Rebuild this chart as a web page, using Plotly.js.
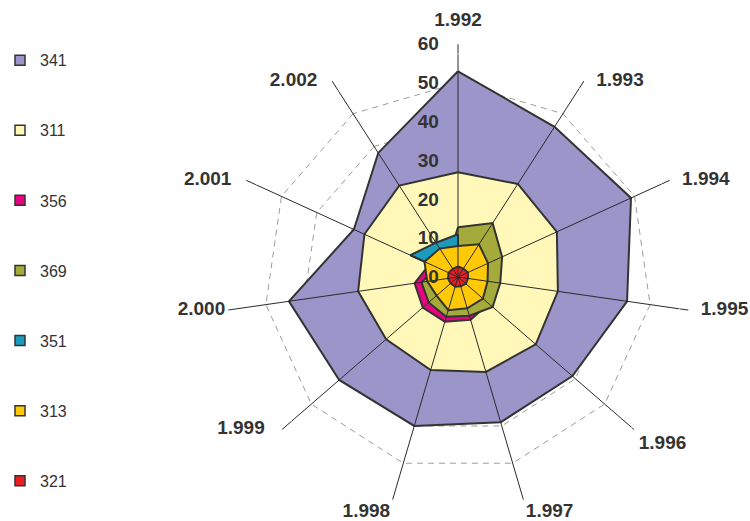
<!DOCTYPE html>
<html>
<head>
<meta charset="utf-8">
<script src="https://cdn.plot.ly/plotly-3.0.1.min.js"></script>
<style>
  html, body { margin: 0; padding: 0; background: #fff; }
  #chart { width: 750px; height: 521px; }
</style>
</head>
<body>
<div id="chart"></div>
<script>
// ---- Data ----
const categories = ['1.992', '1.993', '1.994', '1.995', '1.996', '1.997', '1.998', '1.999', '2.000', '2.001', '2.002'];
const seriesNames = ['341', '311', '356', '369', '351', '313', '321'];
const s341 = [53, 46, 49, 44, 39, 39, 40, 40.5, 44, 29.5, 38];
const s311 = [27, 28.5, 28, 26, 26.5, 25.5, 25, 24.5, 26, 26.5, 28];
const s356 = [8, 9, 9, 9, 10.5, 11.5, 12, 12, 11.3, 8, 7];
const s369 = [12.8, 16.5, 12.5, 11, 11.8, 10.4, 10.7, 10, 9.5, 6, 5];
const s351 = [11, 0, 0, 0, 0, 0, 0, 0, 0, 13.5, 10.5];
const s313 = [8, 10, 8.5, 7.7, 8.5, 8.4, 8.9, 7.3, 8, 9.5, 8.7];
const s321 = [2.7, 2.6, 2.8, 2.6, 2.7, 2.5, 2.6, 2.5, 2.6, 2.7, 2.5];
const radialTicks = [0, 10, 20, 30, 40, 50, 60];

// ---- Styles ----
const seriesValues = [s341, s311, s356, s369, s351, s313, s321];
const fillColors = ['#9B95C9', '#FFF8B8', '#E8047F', '#A5AB3B', '#1B9CBD', '#FFC907', '#EE1C25'];
const outline = '#333333';
const textColor = '#333333';
const fontFamily = 'Liberation Sans, Arial, sans-serif';
const labelPositions = ['top center', 'middle right', 'middle right', 'middle right', 'bottom right',
  'bottom right', 'bottom left', 'middle left', 'middle left', 'middle left', 'middle left'];
const labelGap = [20, 18, 18, 18, 6, 2, 2, 26, 2, 22, 22];
const rMax = radialTicks[radialTicks.length - 1];

const traces = [];

// Filled polygons (first series at the back)
seriesValues.forEach((vals, i) => {
  traces.push({
    type: 'scatterpolar',
    r: vals.concat([vals[0]]),
    theta: categories.concat([categories[0]]),
    mode: 'lines',
    fill: 'toself',
    fillcolor: fillColors[i],
    line: { color: outline, width: 2 },
    name: seriesNames[i],
    showlegend: false,
    hoverinfo: 'skip'
  });
});

// Spokes on top of the fills
categories.forEach((c) => {
  traces.push({
    type: 'scatterpolar',
    r: [0, rMax],
    theta: [c, c],
    mode: 'lines',
    line: { color: '#2a2a2a', width: 1 },
    showlegend: false,
    hoverinfo: 'skip'
  });
});

// Category labels at the spoke ends
traces.push({
  type: 'scatterpolar',
  r: categories.map(() => rMax),
  theta: categories,
  text: categories,
  mode: 'markers+text',
  marker: { size: labelGap, color: 'rgba(0,0,0,0)' },
  textposition: labelPositions,
  textfont: { family: fontFamily, size: 19, color: textColor, weight: 'bold' },
  cliponaxis: false,
  showlegend: false,
  hoverinfo: 'skip'
});

// Legend entries (square swatches)
seriesNames.forEach((n, i) => {
  traces.push({
    type: 'scatterpolar',
    r: [null],
    theta: [null],
    mode: 'markers',
    marker: { symbol: 'square', size: 10, color: fillColors[i], line: { color: outline, width: 1.5 } },
    name: n,
    legendgroup: 'g' + i,
    showlegend: true,
    hoverinfo: 'skip'
  });
});

const layout = {
  width: 750,
  height: 521,
  margin: { l: 0, r: 0, t: 0, b: 0 },
  paper_bgcolor: '#ffffff',
  plot_bgcolor: '#ffffff',
  showlegend: true,
  legend: {
    x: 0,
    xanchor: 'left',
    y: 0.917,
    yanchor: 'top',
    traceorder: 'grouped',
    tracegroupgap: 46.3,
    font: { family: fontFamily, size: 16, color: textColor },
    bgcolor: 'rgba(0,0,0,0)'
  },
  polar: {
    domain: { x: [225 / 750, 691 / 750], y: [1 - 510 / 521, 1 - 44 / 521] },
    bgcolor: 'rgba(0,0,0,0)',
    gridshape: 'linear',
    angularaxis: {
      type: 'category',
      categoryarray: categories,
      rotation: 90,
      direction: 'clockwise',
      showgrid: false,
      showline: false,
      ticks: '',
      showticklabels: false
    },
    radialaxis: {
      range: [0, rMax * 1.0005],
      tickvals: radialTicks,
      ticktext: radialTicks.map(String),
      angle: 90,
      side: 'counterclockwise',
      tickangle: 90,
      showline: false,
      ticks: 'outside',
      ticklen: 12,
      tickcolor: 'rgba(0,0,0,0)',
      showgrid: true,
      gridcolor: '#a39999',
      griddash: '6px,5px',
      gridwidth: 1,
      tickfont: { family: fontFamily, size: 19, color: textColor, weight: 'bold' }
    }
  }
};

Plotly.newPlot('chart', traces, layout, { displayModeBar: false, staticPlot: true });
</script>
</body>
</html>
